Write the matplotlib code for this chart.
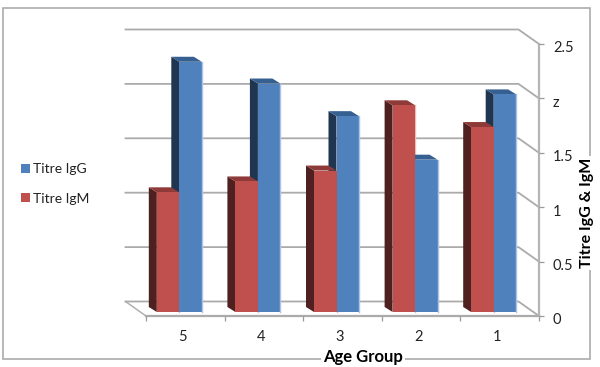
import matplotlib
matplotlib.use("Agg")
import matplotlib.pyplot as plt
from matplotlib.patches import Polygon, Rectangle, Patch
from matplotlib.transforms import ScaledTranslation

plt.rcParams['font.family'] = ['Lato', 'DejaVu Sans']

categories = ['5', '4', '3', '2', '1']
titre_igg = [2.3, 2.1, 1.8, 1.4, 2.0]
titre_igm = [1.1, 1.2, 1.3, 1.9, 1.7]
value_ticks = [0, 0.5, 1, 1.5, 2, 2.5]
value_labels = ['0', '0.5', '1', '1.5', 'z', '2.5']

W, H = 600, 367
fig = plt.figure(figsize=(W / 100, H / 100), dpi=100, facecolor='white')
L, R, B, T = 146, 539, 316, 44
ax = fig.add_axes([L / W, (H - B) / H, (R - L) / W, (B - T) / H])
ax.set_xlim(-0.5, 4.5)
ax.set_ylim(0, 2.5)
ax.patch.set_visible(False)
for s in ax.spines.values():
    s.set_visible(False)

px = (R - L) / 5          # pixels per category
py = (B - T) / 2.5        # pixels per value unit
wall_dx, wall_dy = -20.5 / px, 14.5 / py
depth_dx, depth_dy = -8 / px, 5 / py
base = 4 / py
shift = -6 / px
bar_w = 22.5 / px

GRID = '#ABABAB'
for v in value_ticks:
    ax.plot([-0.5 + wall_dx, 4.5 + wall_dx, 4.5],
            [v + wall_dy, v + wall_dy, v],
            color=GRID, lw=1.3, clip_on=False, zorder=1, solid_joinstyle='miter')
ax.plot([-0.5, 4.5], [0, 0], color=GRID, lw=1.6, clip_on=False, zorder=1)
ax.plot([-0.5 + wall_dx, -0.5], [wall_dy, 0], color=GRID, lw=1.0, clip_on=False, zorder=1)
ax.plot([4.5, 4.5], [0, 2.5], color='#B5B5B5', lw=1.6, clip_on=False, zorder=1)


def draw_bar(x0, v, front, side, top, z, edge, edge_z):
    x1 = x0 + bar_w
    y0, y1 = base, base + v
    ax.plot([x1, x1], [y0, y1], color=edge, lw=1.0, zorder=edge_z, clip_on=False)
    ax.bar(x0, v, bar_w, bottom=base, align='edge', color=front, lw=0, zorder=z + 0.2, clip_on=False)
    ax.add_patch(Polygon([(x0, y0), (x0, y1), (x0 + depth_dx, y1 + depth_dy), (x0 + depth_dx, y0 + depth_dy)],
                         closed=True, fc=side, ec='none', zorder=z, clip_on=False))
    ax.add_patch(Polygon([(x0, y1), (x1, y1), (x1 + depth_dx, y1 + depth_dy), (x0 + depth_dx, y1 + depth_dy)],
                         closed=True, fc=top, ec='none', zorder=z, clip_on=False))


for i in range(len(categories)):
    c = i + shift
    draw_bar(c, titre_igg[i], '#4F81BD', '#1F3550', '#376092', 2 + i * 0.01, '#A9C4E6', 2.5)
    draw_bar(c - bar_w, titre_igm[i], '#C0504D', '#4E2120', '#8E3A38', 3 + i * 0.01, '#E8BDBB', 1.5)

# axes ticks
ax.set_xticks(range(len(categories)))
ax.set_xticklabels(categories, fontsize=10.5, color='#222222')
ax.set_xticks([i - 0.5 for i in range(len(categories) + 1)], minor=True)
ax.tick_params(axis='x', which='major', length=0, pad=10)
ax.tick_params(axis='x', which='minor', length=3.5, width=0.9, color='#9A9A9A')
ax.yaxis.tick_right()
ax.set_yticks(value_ticks)
ax.set_yticklabels(value_labels, fontsize=10.5, color='#222222')
ax.tick_params(axis='y', length=3.5, width=0.9, color='#9A9A9A', pad=6.5)
off = ScaledTranslation(0, -3 / 100, fig.dpi_scale_trans)
for lab in ax.get_yticklabels():
    lab.set_transform(lab.get_transform() + off)
off_x = ScaledTranslation(-3 / 100, 0, fig.dpi_scale_trans)
for lab in ax.get_xticklabels():
    lab.set_transform(lab.get_transform() + off_x)

# outer frame
fig.add_artist(Rectangle((3 / W, (H - 359) / H), 586.5 / W, 351 / H, transform=fig.transFigure,
                         fill=False, ec='#ABABAB', lw=1.2, zorder=0))

# axis titles
wbox = dict(fc='white', ec='none', pad=1.5)
fig.text(363 / W, (H - 357) / H, 'Age Group', ha='center', va='center', fontsize=12,
         fontweight='bold', color='black', bbox=wbox, zorder=5)
fig.text(587 / W, (H - 213) / H, 'Titre IgG & IgM', ha='center', va='center', rotation=90,
         fontsize=11.5, fontweight='bold', color='black', bbox=wbox, zorder=5)

# legend
handles = [Patch(fc='#4F81BD', ec='none', label='Titre IgG'),
           Patch(fc='#C0504D', ec='none', label='Titre IgM')]
fig.legend(handles=handles, loc='center left', bbox_to_anchor=(21 / W, (H - 184) / H),
           frameon=False, fontsize=10, handlelength=0.65, handleheight=0.65,
           handletextpad=0.2, labelspacing=1.25, labelcolor='#222222', borderpad=0, borderaxespad=0)

fig.savefig('out.png', dpi=100)
